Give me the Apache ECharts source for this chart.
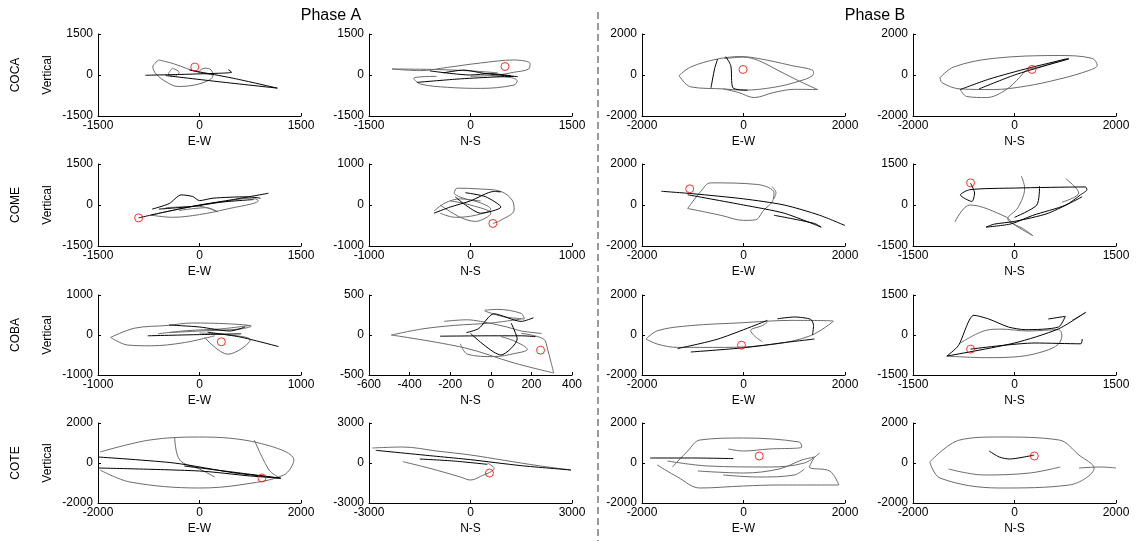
<!DOCTYPE html>
<html><head><meta charset="utf-8">
<script src="https://cdn.jsdelivr.net/npm/echarts@6/dist/echarts.min.js"></script>
<style>html,body{margin:0;padding:0;background:#fff}#c{width:1136px;height:541px}</style>
</head><body><div id="c"></div>
<script>
const rowNames = ['COCA', 'COME', 'COBA', 'COTE'];
const phaseTitles = ['Phase A', 'Phase B'];
const colAxisNames = ['E-W', 'N-S', 'E-W', 'N-S'];
const yAxisName = 'Vertical';

// tick labels per panel (row-major, 4 x 4)
const xTickSets = [
  [-1500, 0, 1500], [-1500, 0, 1500], [-2000, 0, 2000], [-2000, 0, 2000],
  [-1500, 0, 1500], [-1000, 0, 1000], [-2000, 0, 2000], [-1500, 0, 1500],
  [-1000, 0, 1000], [-600, -400, -200, 0, 200, 400], [-2000, 0, 2000], [-1500, 0, 1500],
  [-2000, 0, 2000], [-3000, 0, 3000], [-2000, 0, 2000], [-2000, 0, 2000]
];
const yTickSets = [
  [-1500, 0, 1500], [-1500, 0, 1500], [-2000, 0, 2000], [-2000, 0, 2000],
  [-1500, 0, 1500], [-1000, 0, 1000], [-2000, 0, 2000], [-1500, 0, 1500],
  [-1000, 0, 1000], [-500, 0, 500], [-2000, 0, 2000], [-1500, 0, 1500],
  [-2000, 0, 2000], [-3000, 0, 3000], [-2000, 0, 2000], [-2000, 0, 2000]
];

// trajectories: gray segments, black segments, start point (red circle)
const cocaA_EW = {
  gray: [
    [[-600,550],[-690,300],[-640,30],[-480,-270],[-320,-420],[-80,-370],[120,-210],[200,-30],[170,190],[80,250],[0,160]],
    [[-600,550],[-380,410],[-180,230],[20,80],[200,0]],
    [[-400,250],[-300,100],[-380,-50],[-460,30],[-400,250]]
  ],
  black: [
    [[-800,-10],[-300,20],[100,50],[475,100],[425,200]],
    [[-500,-20],[300,-250],[1150,-480],[500,-120],[-150,180]]
  ],
  start: [-70, 290]
};
const cocaA_NS = {
  gray: [
    [[-1160,220],[-740,160],[-340,280],[150,440],[640,550],[880,420],[860,220],[640,100],[400,0],[0,-50]],
    [[-1160,220],[-500,200],[0,150],[400,80]],
    [[-500,-50],[-840,-120],[-740,-330],[-340,-450],[150,-490],[640,-370],[690,-210],[590,-90],[300,-30]]
  ],
  black: [
    [[-790,-270],[-200,-150],[300,-80],[640,-50]],
    [[-400,80],[-100,180],[200,60],[500,-20],[700,-60]],
    [[-600,150],[0,0],[300,50],[600,-30]]
  ],
  start: [510, 310]
};
const cocaB_EW = {
  gray: [
    [[-1270,-30],[-1040,390],[-510,780],[-50,900],[280,810],[930,470],[1380,170],[1360,-30],[1100,-300],[600,-600],[0,-740],[-380,-680],[-1040,-580],[-1270,-30]],
    [[-380,800],[0,870],[300,700],[700,200],[1100,-300],[1460,-710],[1000,-700],[600,-850],[210,-1100],[-100,-850],[-400,-680]]
  ],
  black: [
    [[-510,780],[-570,300],[-640,-620]],
    [[-350,900],[-250,450],[-210,-620],[80,-740]]
  ],
  start: [-10, 270]
};
const cocaB_NS = {
  gray: [
    [[-1465,-120],[-1200,390],[-420,810],[880,950],[1530,810],[1630,470],[1465,220],[880,-200],[230,-540],[-420,-710],[-1070,-680],[-1430,-370],[-1465,-120]],
    [[-1070,-710],[-940,-1050],[-550,-1100],[-160,-710],[100,-120],[230,220],[500,400],[1000,780]]
  ],
  black: [
    [[-1070,-710],[-500,-200],[300,350],[1070,810]],
    [[-700,-680],[0,0],[600,450],[1070,780]]
  ],
  start: [345, 270]
};
const comeA_EW = {
  gray: [
    [[-720,-370],[-400,-450],[0,-350],[400,-150],[870,160],[770,250],[300,100],[-200,-100],[-720,-370]],
    [[-500,-100],[0,-50],[270,-250],[100,-100],[-300,-200]]
  ],
  black: [
    [[-900,-470],[-500,-250],[0,0],[500,200],[1020,430]],
    [[-700,-150],[-450,50],[-270,370],[-100,310],[0,160],[200,250],[700,300],[900,250]],
    [[-600,-150],[-100,-50],[300,100],[800,200]]
  ],
  start: [-900, -470]
};
const comeA_NS = {
  gray: [
    [[220,-450],[300,-370],[430,-120],[410,120],[300,330],[100,390],[-130,410],[-160,300],[-50,150],[100,100]],
    [[-360,-150],[-250,50],[-100,150],[100,50],[200,-100],[50,-250],[-150,-300],[-300,-200]],
    [[-300,0],[-100,-300],[50,-400],[200,-200],[0,0],[-200,100]]
  ],
  black: [
    [[-360,-200],[-200,-50],[0,100],[230,330],[300,320]],
    [[-150,200],[-50,0],[100,-200],[300,-50],[150,200],[-50,300]]
  ],
  start: [220, -450]
};
const comeB_EW = {
  gray: [
    [[-1100,-170],[-840,670],[-650,1080],[280,1000],[600,600],[570,170],[400,-250],[240,-720],[0,-750],[-450,-500],[-1100,-170]],
    [[560,900],[640,600],[600,300]]
  ],
  black: [
    [[-1620,670],[-1000,550],[0,300],[800,0],[1500,-500],[2000,-1000]],
    [[-1100,500],[0,0],[800,-400],[1530,-1080],[1400,-900],[600,-500]]
  ],
  start: [-1060, 790]
};
const comeB_NS = {
  gray: [
    [[-880,-620],[-660,0],[-120,-440],[-20,-690],[270,-1120],[150,-900],[-100,-500],[50,-100],[150,620],[100,1060]],
    [[760,960],[950,440],[700,100]]
  ],
  black: [
    [[-650,800],[-590,440],[-630,130],[-800,370],[-660,560],[0,620],[1050,660],[1070,560],[980,380],[760,0],[270,-380],[-50,-690],[-420,-810],[-300,-700],[0,-600],[500,-300],[1000,300]],
    [[370,690],[330,0],[0,-450]]
  ],
  start: [-650, 810]
};
const cobaA_EW = {
  gray: [
    [[-875,-60],[-640,170],[-310,240],[-80,300],[280,280],[510,220],[400,150],[0,100],[-300,60]],
    [[-875,-60],[-710,-250],[-480,-270],[-150,-190],[150,-20]],
    [[50,-60],[280,-480],[500,-120],[300,0],[0,50]],
    [[-410,30],[-120,110],[200,150],[500,240]]
  ],
  black: [
    [[-510,-20],[0,10],[410,30]],
    [[80,70],[400,-50],[780,-290]],
    [[-300,250],[0,200],[300,100],[450,200]]
  ],
  start: [215, -170]
};
const cobaA_NS = {
  gray: [
    [[-490,0],[-340,75],[-180,120],[0,150],[150,200]],
    [[-490,0],[-130,-160],[115,-350],[310,-475],[295,-325],[280,-180],[260,-50],[150,20]],
    [[-30,310],[30,320],[150,270],[165,200],[60,230],[-30,300]],
    [[-150,-110],[-115,-240],[15,-270],[120,-230],[180,-180],[120,-80],[50,-20]],
    [[-230,170],[-120,190],[-50,170],[80,100],[150,50],[250,20]]
  ],
  black: [
    [[-250,-15],[0,-10],[150,-10],[220,-20]],
    [[-120,30],[-60,80],[15,265],[150,170],[210,215]],
    [[-100,20],[50,-250],[130,-50],[100,150]]
  ],
  start: [245, -190]
};
const cobaB_EW = {
  gray: [
    [[-1920,-200],[-1690,220],[-1040,470],[-50,610],[930,730],[1770,690],[1325,-30],[600,-460],[-380,-620],[-1300,-620],[-1690,-460],[-1920,-200]],
    [[470,640],[370,470],[140,220],[210,-30],[370,-340]]
  ],
  black: [
    [[-1300,-680],[-500,-200],[470,730]],
    [[-1040,-850],[0,-640],[800,-380],[1400,-200]],
    [[670,810],[1000,900],[1325,780],[1380,470],[1360,0]]
  ],
  start: [-40, -510]
};
const cobaB_NS = {
  gray: [
    [[-1000,-790],[-430,-850],[60,-810],[450,-600],[650,-340],[700,0],[650,200],[200,150],[-200,220],[-430,170],[-800,-300]],
    [[850,550],[1060,850]]
  ],
  black: [
    [[-1000,-790],[-830,-400],[-600,740],[-380,600],[-90,300],[160,200],[650,300],[750,700],[500,600]],
    [[-1000,-790],[0,-300],[650,230],[1050,850]],
    [[-650,-530],[300,-300],[980,-330],[1000,-150]]
  ],
  start: [-650, -530]
};
const coteA_EW = {
  gray: [
    [[-1960,550],[-980,1150],[0,1300],[1170,1000],[1860,150],[1660,-600],[780,-1100],[0,-1250],[-1370,-950],[-1960,-350]],
    [[-490,1300],[-390,150],[0,-300],[300,-700]],
    [[1080,1150],[1370,-350],[1550,-700]]
  ],
  black: [
    [[-2000,300],[-500,0],[700,-500],[1600,-760]],
    [[-2000,-250],[0,-400],[1000,-650],[1600,-760],[800,-500],[-300,-150]]
  ],
  start: [1230, -750]
};
const coteA_NS = {
  gray: [
    [[-2900,1125],[-2000,1200],[-1000,900],[0,600],[1000,200],[2000,-200],[2970,-525]],
    [[-2000,100],[-1200,-400],[-300,-1050],[0,-1275],[300,-1000],[700,-400],[500,0]]
  ],
  black: [
    [[-2800,950],[-1000,500],[0,250],[1500,-200],[2970,-525]],
    [[-1500,300],[-500,150],[500,-100]]
  ],
  start: [560, -750]
};
const coteB_EW = {
  gray: [
    [[-1400,-200],[-1100,600],[-860,1150],[0,1250],[1100,1050],[1150,800],[500,700],[0,600],[-300,700]],
    [[-1700,-100],[-1300,-700],[-860,-1250],[0,-1150],[700,-1100],[1880,-1100],[1700,-400],[1300,-200],[1400,300],[1150,150],[700,-300],[0,-500],[-900,-400]],
    [[-1500,100],[-700,-150],[500,-200],[1200,0],[1500,500]],
    [[-400,-600],[300,-700],[1000,-600],[1200,-300]]
  ],
  black: [
    [[-1840,250],[-1000,250],[-200,220]]
  ],
  start: [310, 350]
};
const coteB_NS = {
  gray: [
    [[-1670,50],[-1080,1150],[-300,1300],[880,1150],[1270,400],[1570,-250],[1080,-1100],[-300,-1250],[-1470,-750],[-1670,50]],
    [[1270,-250],[1700,-200],[2000,-250]],
    [[-1300,-300],[-600,-600],[300,-500],[900,-200]]
  ],
  black: [
    [[-500,600],[-300,300],[-100,200],[390,400]]
  ],
  start: [390, 350]
};
const panels = [
  cocaA_EW, cocaA_NS, cocaB_EW, cocaB_NS,
  comeA_EW, comeA_NS, comeB_EW, comeB_NS,
  cobaA_EW, cobaA_NS, cobaB_EW, cobaB_NS,
  coteA_EW, coteA_NS, coteB_EW, coteB_NS
];

// layout
const colLeft = [98, 369, 642, 913];
const rowTop = [34, 164, 295, 423];
const rowHeight = [82, 82, 80, 80];
const panelWidth = 203;
const FONT = 'Liberation Sans, Arial, sans-serif';
const plain = v => String(v);

const grids = [], xAxes = [], yAxes = [], series = [];
panels.forEach((p, i) => {
  const r = Math.floor(i / 4), c = i % 4;
  grids.push({left: colLeft[c], top: rowTop[r], width: panelWidth, height: rowHeight[r]});
  const xt = xTickSets[i], yt = yTickSets[i];
  const common = {
    type: 'value',
    gridIndex: i,
    splitLine: {show: false},
    axisTick: {show: true, inside: true, length: 3, lineStyle: {color: '#000', width: 1}},
    nameLocation: 'middle',
    nameTextStyle: {color: '#000', fontSize: 12, fontFamily: FONT}
  };
  xAxes.push(Object.assign({}, common, {
    min: xt[0], max: xt[xt.length - 1], interval: xt[1] - xt[0],
    axisLine: {show: true, onZero: false, lineStyle: {color: '#000', width: 1}},
    axisLabel: {color: '#000', fontSize: 12, fontFamily: FONT, margin: 4, showMinLabel: true, showMaxLabel: true, formatter: plain},
    name: colAxisNames[c], nameGap: 20
  }));
  yAxes.push(Object.assign({}, common, {
    min: yt[0], max: yt[yt.length - 1], interval: yt[1] - yt[0],
    axisLine: {show: true, onZero: false, lineStyle: {color: '#000', width: 1}},
    axisLabel: {color: '#000', fontSize: 12, fontFamily: FONT, margin: 5, showMinLabel: true, showMaxLabel: true, formatter: plain},
    name: c === 0 ? yAxisName : '', nameGap: 44, nameRotate: 90
  }));
  p.gray.forEach(seg => series.push({
    type: 'line', xAxisIndex: i, yAxisIndex: i, data: seg, showSymbol: false, smooth: 0.35,
    lineStyle: {color: '#6b6b6b', width: 1}, silent: true, animation: false
  }));
  p.black.forEach(seg => series.push({
    type: 'line', xAxisIndex: i, yAxisIndex: i, data: seg, showSymbol: false, smooth: 0.25,
    lineStyle: {color: '#000', width: 1}, silent: true, animation: false
  }));
  series.push({
    type: 'scatter', xAxisIndex: i, yAxisIndex: i, data: [p.start], symbol: 'circle', symbolSize: 8,
    itemStyle: {color: 'rgba(0,0,0,0)', borderColor: '#ff0000', borderWidth: 1}, silent: true, animation: false, z: 5
  });
});

const graphics = [
  {type: 'line', shape: {x1: 598, y1: 12, x2: 598, y2: 541}, style: {stroke: '#7a7a7a', lineWidth: 1.5, lineDash: [7, 4]}},
  {type: 'text', x: 331, y: 16, style: {text: phaseTitles[0], fontSize: 16, fontFamily: FONT, fill: '#000', textAlign: 'center', textVerticalAlign: 'middle'}},
  {type: 'text', x: 875, y: 16, style: {text: phaseTitles[1], fontSize: 16, fontFamily: FONT, fill: '#000', textAlign: 'center', textVerticalAlign: 'middle'}}
];
rowNames.forEach((n, r) => graphics.push({
  type: 'text', x: 16, y: rowTop[r] + rowHeight[r] / 2, rotation: Math.PI / 2,
  style: {text: n, fontSize: 12, fontFamily: FONT, fill: '#000', textAlign: 'center', textVerticalAlign: 'middle'}
}));

const chart = echarts.init(document.getElementById('c'), null, {renderer: 'canvas'});
chart.setOption({
  animation: false,
  backgroundColor: '#fff',
  grid: grids, xAxis: xAxes, yAxis: yAxes, series: series, graphic: graphics
});
</script></body></html>
